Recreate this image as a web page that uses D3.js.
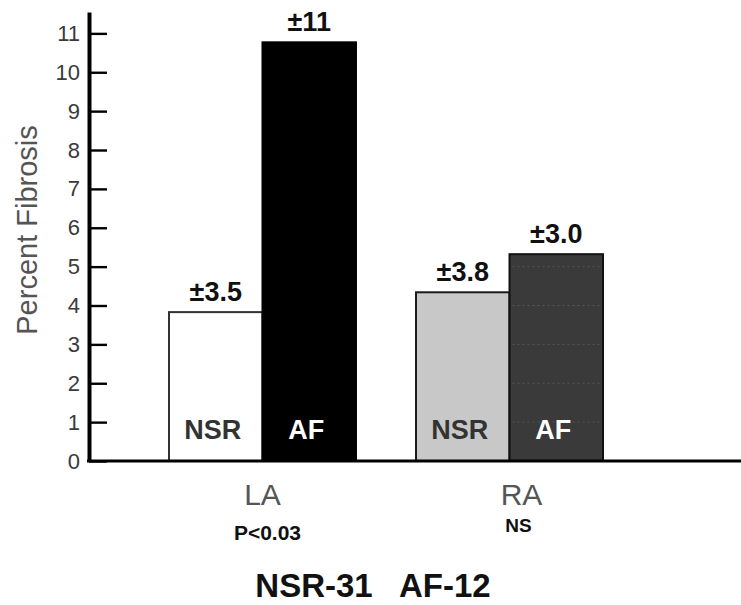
<!DOCTYPE html>
<html>
<head>
<meta charset="utf-8">
<script src="https://cdn.jsdelivr.net/npm/d3@7"></script>
<style>
  html, body { margin: 0; padding: 0; background: #fff; }
  svg { display: block; font-family: "Liberation Sans", Arial, sans-serif; }
</style>
</head>
<body>
<svg id="chart" width="741" height="605"></svg>
<script>
// ---- data ----
const groups = ["LA", "RA"];
const seriesNames = ["NSR", "AF"];
const nsrValues = [3.83, 4.34];
const afValues = [10.77, 5.32];
const nsrErrLabels = ["±3.5", "±3.8"];
const afErrLabels = ["±11", "±3.0"];
const pLabels = ["P<0.03", "NS"];
const yTicks = [0, 1, 2, 3, 4, 5, 6, 7, 8, 9, 10, 11];
const yLabel = "Percent Fibrosis";
const footer = "NSR-31   AF-12";

const rows = [];
groups.forEach((g, i) => {
  rows.push({ group: g, series: "NSR", value: nsrValues[i], err: nsrErrLabels[i], gi: i });
  rows.push({ group: g, series: "AF", value: afValues[i], err: afErrLabels[i], gi: i });
});

const fills = { "LA|NSR": "#ffffff", "LA|AF": "#000000", "RA|NSR": "#c8c8c8", "RA|AF": "#3a3a3a" };
const strokes = { "LA|NSR": "#333333", "LA|AF": "#000000", "RA|NSR": "#1a1a1a", "RA|AF": "#111111" };
const inText = { "LA|NSR": "#333333", "LA|AF": "#ffffff", "RA|NSR": "#333333", "RA|AF": "#ffffff" };

const svg = d3.select("#chart");
const axisX = 89, baseY = 461, topY = 12;

const y = d3.scaleLinear().domain([0, 11.55]).range([baseY, topY]);
const x0 = d3.scaleBand().domain(groups).range([169, 603]).paddingInner(0.243).paddingOuter(0);
const x1 = d3.scaleBand().domain(seriesNames).range([0, x0.bandwidth()]).padding(0);

const gBars = svg.append("g");
gBars.selectAll("rect.bar").data(rows).join("rect")
  .attr("class", "bar")
  .attr("x", d => x0(d.group) + x1(d.series))
  .attr("y", d => y(d.value))
  .attr("width", x1.bandwidth())
  .attr("height", d => y(0) - y(d.value))
  .attr("fill", d => fills[d.group + "|" + d.series])
  .attr("stroke", d => strokes[d.group + "|" + d.series])
  .attr("stroke-width", 2);

// faint dotted inner lines in the RA AF bar (texture in the original)
const raAF = rows.find(r => r.group === "RA" && r.series === "AF");
gBars.selectAll("line.tex").data(yTicks.filter(t => t > 0 && t < raAF.value)).join("line")
  .attr("class", "tex")
  .attr("x1", x0("RA") + x1("AF") + 3)
  .attr("x2", x0("RA") + x1("AF") + x1.bandwidth() - 3)
  .attr("y1", t => y(t)).attr("y2", t => y(t))
  .attr("stroke", "#555").attr("stroke-width", 1).attr("stroke-dasharray", "2,3");

// error labels above bars
svg.append("g").selectAll("text").data(rows).join("text")
  .attr("x", d => x0(d.group) + x1(d.series) + x1.bandwidth() / 2)
  .attr("y", d => y(d.value) - 11)
  .attr("text-anchor", "middle")
  .attr("font-size", 27).attr("font-weight", "bold").attr("fill", "#111")
  .text(d => d.err);

// labels inside bars
svg.append("g").selectAll("text").data(rows).join("text")
  .attr("x", d => x0(d.group) + x1(d.series) + x1.bandwidth() / 2 - 3)
  .attr("y", 439)
  .attr("text-anchor", "middle")
  .attr("font-size", 27).attr("font-weight", "bold")
  .attr("fill", d => inText[d.group + "|" + d.series])
  .text(d => d.series);

// y axis
const yAxis = d3.axisLeft(y).tickValues(yTicks).tickSize(-18).tickSizeOuter(0).tickPadding(9).tickFormat(d3.format("d"));
const gy = svg.append("g").attr("transform", `translate(${axisX},0)`).call(yAxis);
gy.select(".domain").attr("stroke", "#000").attr("stroke-width", 4);
gy.selectAll(".tick line").attr("stroke", "#000").attr("stroke-width", 2.4);
gy.selectAll(".tick text").attr("font-size", 22).attr("fill", "#3a3a3a")
  .attr("font-family", "'Liberation Sans', Arial, sans-serif");

// x axis baseline
svg.append("line")
  .attr("x1", axisX - 2).attr("x2", 741)
  .attr("y1", y(0)).attr("y2", y(0))
  .attr("stroke", "#000").attr("stroke-width", 3.2);

// group labels
const groupOffsets = [0, 12];
const pOffsets = [5, 9];
svg.append("g").selectAll("text").data(groups).join("text")
  .attr("x", (g, i) => x0(g) + x0.bandwidth() / 2 + groupOffsets[i])
  .attr("y", 505)
  .attr("text-anchor", "middle")
  .attr("font-size", 30).attr("fill", "#555")
  .text(g => g);

svg.append("g").selectAll("text").data(pLabels).join("text")
  .attr("x", (p, i) => x0(groups[i]) + x0.bandwidth() / 2 + pOffsets[i])
  .attr("y", (p, i) => i === 0 ? 540 : 532)
  .attr("text-anchor", "middle")
  .attr("font-size", (p, i) => i === 0 ? 21 : 19)
  .attr("font-weight", "bold").attr("fill", "#111")
  .text(p => p);

// y label
svg.append("text")
  .attr("transform", "translate(37,230) rotate(-90)")
  .attr("text-anchor", "middle")
  .attr("font-size", 29).attr("fill", "#555")
  .text(yLabel);

// footer
svg.append("text")
  .attr("x", 373).attr("y", 597)
  .attr("text-anchor", "middle")
  .attr("font-size", 33).attr("font-weight", "bold").attr("fill", "#111")
  .attr("xml:space", "preserve")
  .style("white-space", "pre")
  .text(footer);
</script>
</body>
</html>
